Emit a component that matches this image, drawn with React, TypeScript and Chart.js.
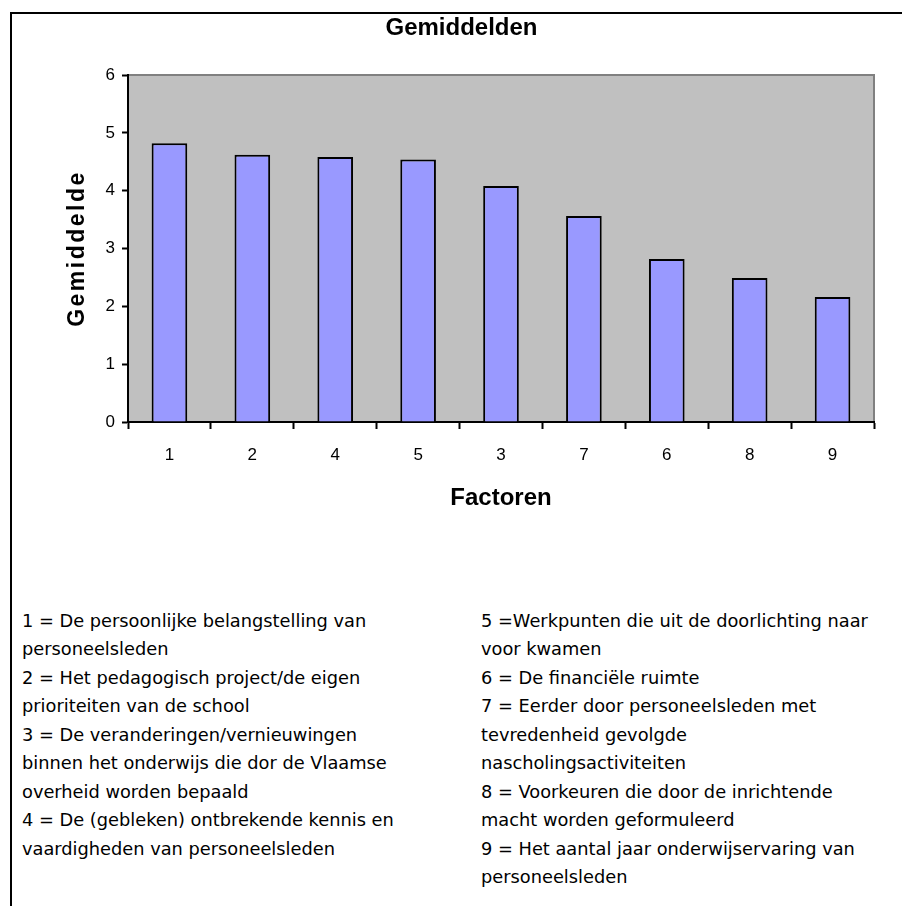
import React, { useEffect, useRef } from "react";
import { Chart, registerables } from "chart.js";

Chart.register(...registerables);

const categories = ["1", "2", "4", "5", "3", "7", "6", "8", "9"];
const values = [4.82, 4.62, 4.58, 4.54, 4.08, 3.56, 2.82, 2.49, 2.16];
const yTicks = [0, 1, 2, 3, 4, 5, 6];
const chartTitle = "Gemiddelden";
const yTitle = "Gemiddelde";
const xTitle = "Factoren";

const legendLeft = [
  "1 = De persoonlijke belangstelling van",
  "personeelsleden",
  "2 = Het pedagogisch project/de eigen",
  "prioriteiten van de school",
  "3 = De veranderingen/vernieuwingen",
  "binnen het onderwijs die dor de Vlaamse",
  "overheid worden bepaald",
  "4 = De (gebleken) ontbrekende kennis en",
  "vaardigheden van personeelsleden",
];
const legendRight = [
  "5 =Werkpunten die uit de doorlichting naar",
  "voor kwamen",
  "6 = De financiële ruimte",
  "7 = Eerder door personeelsleden met",
  "tevredenheid gevolgde",
  "nascholingsactiviteiten",
  "8 = Voorkeuren die door de inrichtende",
  "macht worden geformuleerd",
  "9 = Het aantal jaar onderwijservaring van",
  "personeelsleden",
];

const ARIAL = '"Liberation Sans", Arial, sans-serif';

export default function App() {
  const ref = useRef<HTMLCanvasElement>(null);

  useEffect(() => {
    if (!ref.current) return;
    const plotBg = {
      id: "plotBg",
      beforeDraw(chart: any) {
        const { ctx, chartArea: a } = chart;
        ctx.save();
        ctx.fillStyle = "#C0C0C0";
        ctx.fillRect(a.left, a.top, a.right - a.left, a.bottom - a.top);
        ctx.strokeStyle = "#808080";
        ctx.lineWidth = 2;
        ctx.beginPath();
        ctx.moveTo(a.left, a.top);
        ctx.lineTo(a.right, a.top);
        ctx.lineTo(a.right, a.bottom);
        ctx.stroke();
        ctx.restore();
        const s: any = chart.scales.y;
        if (s && !s.__ls) {
          const orig = s.drawTitle;
          s.drawTitle = function () {
            const c: any = this.ctx;
            c.save();
            c.letterSpacing = "2.5px";
            orig.call(this);
            c.letterSpacing = "0px";
            c.restore();
          };
          s.__ls = true;
        }
      },
    };

    const chart = new Chart(ref.current, {
      type: "bar",
      data: {
        labels: categories,
        datasets: [
          {
            data: values,
            backgroundColor: "#9999FF",
            borderColor: "#000000",
            borderWidth: 2,
            barPercentage: 0.43,
            categoryPercentage: 1,
          },
        ],
      },
      options: {
        animation: false,
        responsive: true,
        maintainAspectRatio: false,
        layout: { padding: { left: 37, right: 28, top: 0, bottom: 0 } },
        plugins: {
          legend: { display: false },
          tooltip: { enabled: false },
          title: {
            display: true,
            text: chartTitle,
            color: "#000",
            font: { family: ARIAL, size: 24, weight: "bold", lineHeight: 1.2 },
            padding: { top: 0, bottom: 32.2 },
          },
        },
        scales: {
          x: {
            afterFit(s: any) {
              s.height = 108;
            },
            grid: {
              offset: true,
              drawOnChartArea: false,
              drawTicks: true,
              tickLength: 7,
              tickColor: "#000",
              tickWidth: 2,
            },
            border: { display: true, color: "#000", width: 2 },
            ticks: { color: "#000", font: { family: ARIAL, size: 17 }, padding: 16, maxRotation: 0 },
            title: {
              display: true,
              text: xTitle,
              color: "#000",
              font: { family: ARIAL, size: 24, weight: "bold" },
              padding: { top: 0, bottom: 17.5 },
            },
          },
          y: {
            min: 0,
            max: 6,
            afterFit(s: any) {
              s.width = 79;
            },
            afterBuildTicks(s: any) {
              s.ticks = yTicks.map((v) => ({ value: v }));
            },
            ticks: { color: "#000", font: { family: ARIAL, size: 17 }, padding: 7 },
            grid: { drawOnChartArea: false, tickLength: 6, tickColor: "#000", tickWidth: 2 },
            border: { color: "#000", width: 2 },
            title: {
              display: true,
              text: yTitle,
              color: "#000",
              font: { family: ARIAL, size: 23, weight: "bold" },
              padding: { top: 15.2, bottom: 0 },
            },
          },
        },
      },
      plugins: [plotBg],
    } as any);
    return () => chart.destroy();
  }, []);

  const legendStyle: React.CSSProperties = {
    position: "absolute",
    top: 606.75,
    fontFamily: '"DejaVu Sans", Verdana, sans-serif',
    fontSize: 17.8,
    lineHeight: "28.5px",
    color: "#000",
    whiteSpace: "pre",
  };

  return (
    <div style={{ position: "absolute", left: 0, top: 0, width: 902, height: 906, overflow: "hidden", background: "#fff" }}>
      <div
        style={{
          position: "absolute",
          left: 10,
          top: 12,
          width: 892,
          height: 894,
          borderTop: "2px solid #000",
          borderLeft: "2px solid #000",
          boxSizing: "border-box",
        }}
      />
      <div style={{ position: "absolute", left: 12, top: 14, width: 890, height: 516 }}>
        <canvas ref={ref} />
      </div>
      <div style={{ ...legendStyle, left: 22 }}>
        {legendLeft.map((t, i) => (
          <div key={i}>{t}</div>
        ))}
      </div>
      <div style={{ ...legendStyle, left: 481 }}>
        {legendRight.map((t, i) => (
          <div key={i}>{t}</div>
        ))}
      </div>
    </div>
  );
}
